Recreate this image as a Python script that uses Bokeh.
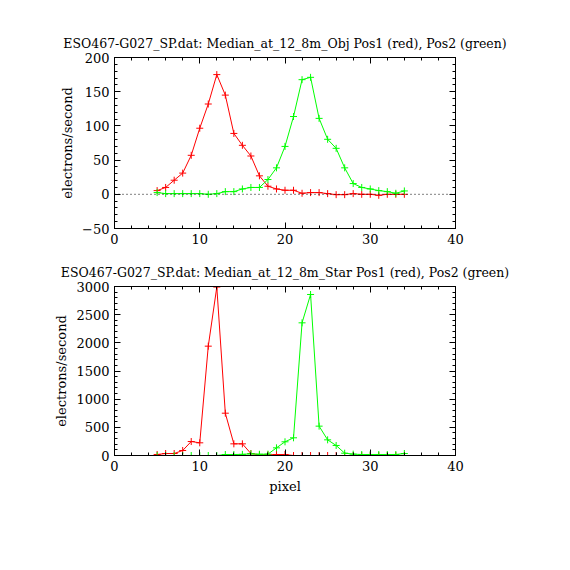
from bokeh.plotting import figure
from bokeh.models import Range1d, LinearAxis, SingleIntervalTicker, Span, Title, CustomJSTickFormatter
from bokeh.layouts import column
from bokeh.embed import file_html
from bokeh.resources import INLINE

pixel = list(range(5, 35))

obj_pos1 = [5.4, 10, 20.6, 31, 57, 96.6, 132, 175, 145, 89, 71.6, 56, 27, 11.8, 7.8,
            5.9, 5.9, 1.5, 2.5, 2.5, 1, -0.5, -0.5, 1, 0, 0, -1.5, 0, 0, 0]
obj_pos2 = [2.5, 1, 1, 1, 1, 1, 0, 1, 3.9, 3.9, 7.8, 10, 10, 21.6, 38.7,
            70, 113.7, 167.6, 171, 111, 80.4, 67.2, 38.7, 15.7, 10, 7.8, 5.4, 3.9, 1.5, 4.9]

star_pos1 = [18, 35, 35, 89, 248, 225, 1941, 2990, 751, 207, 207, 35, 12, 12, 18,
             18, 0, 0, 0, 0, 0, 0, 0, 0, 0, 0, 0, 0, 0, 0]
star_pos2 = [0, 0, 0, 0, 0, 0, 0, 0, 18, 18, 20, 30, 22, 24, 136,
             243, 314, 2355, 2858, 521, 278, 178, 41, 24, 18, 18, 18, 18, 18, 35]

title_obj = "ESO467-G027_SP.dat: Median_at_12_8m_Obj Pos1 (red), Pos2 (green)"
title_star = "ESO467-G027_SP.dat: Median_at_12_8m_Star Pos1 (red), Pos2 (green)"
ylabel = "electrons/second"
xlabel = "pixel"

FONT = "DejaVu Serif"
RED = "#ff0000"
GREEN = "#00ff00"


def style_axis(ax, show_labels=True):
    ax.major_tick_in = 6
    ax.major_tick_out = 0
    ax.minor_tick_in = 3
    ax.minor_tick_out = 0
    ax.axis_line_color = "black"
    ax.major_tick_line_color = "black"
    ax.minor_tick_line_color = "black"
    ax.major_label_text_font = FONT
    ax.major_label_text_font_size = "13px"
    ax.major_label_text_color = "black"
    ax.axis_label_text_font = FONT
    ax.axis_label_text_font_size = "13px"
    ax.axis_label_text_font_style = "normal"
    ax.axis_label_text_color = "black"
    if not show_labels:
        ax.formatter = CustomJSTickFormatter(code="return ''")
        ax.major_label_standoff = 0


def make_panel(title, y0, y1, yint, p1, p2, height, top, bottom, xl=None, dotted=False):
    p = figure(width=555, height=height, output_backend="svg", toolbar_location=None,
               x_range=Range1d(0, 40), y_range=Range1d(y0, y1),
               min_border_left=114, min_border_right=100,
               min_border_top=top, min_border_bottom=bottom,
               x_axis_location=None, y_axis_location=None)
    p.grid.visible = False
    p.outline_line_color = "black"
    p.background_fill_color = "white"
    p.border_fill_color = "white"

    xb = LinearAxis(ticker=SingleIntervalTicker(interval=10, num_minor_ticks=5))
    if xl:
        xb.axis_label = xl
    style_axis(xb)
    p.add_layout(xb, "below")
    xa = LinearAxis(ticker=SingleIntervalTicker(interval=10, num_minor_ticks=5))
    style_axis(xa, False)
    p.add_layout(xa, "above")

    yl = LinearAxis(ticker=SingleIntervalTicker(interval=yint, num_minor_ticks=5),
                    axis_label=ylabel)
    style_axis(yl)
    yl.axis_label_standoff = 4
    p.add_layout(yl, "left")
    yr = LinearAxis(ticker=SingleIntervalTicker(interval=yint, num_minor_ticks=5))
    style_axis(yr, False)
    p.add_layout(yr, "right")

    t = Title(text=title, align="center", text_font=FONT, text_font_size="12.5px",
              text_font_style="normal", text_color="black", standoff=13)
    p.add_layout(t, "above")

    if dotted:
        p.add_layout(Span(location=0, dimension="width", line_color="black",
                          line_dash="1 3", line_width=1))

    p.line(pixel, p1, line_color=RED, line_width=1)
    p.scatter(pixel, p1, marker="cross", size=7, line_color=RED, line_width=1)
    p.line(pixel, p2, line_color=GREEN, line_width=1)
    p.scatter(pixel, p2, marker="cross", size=7, line_color=GREEN, line_width=1)
    return p


top = make_panel(title_obj, -50, 200, 50, obj_pos1, obj_pos2, 250, 57, 22, dotted=True)
bot = make_panel(title_star, 0, 3000, 500, star_pos1, star_pos2, 255, 36, 50, xl=xlabel)

layout = column(top, bot, spacing=0)
open("out.html", "w").write(file_html(layout, INLINE))
